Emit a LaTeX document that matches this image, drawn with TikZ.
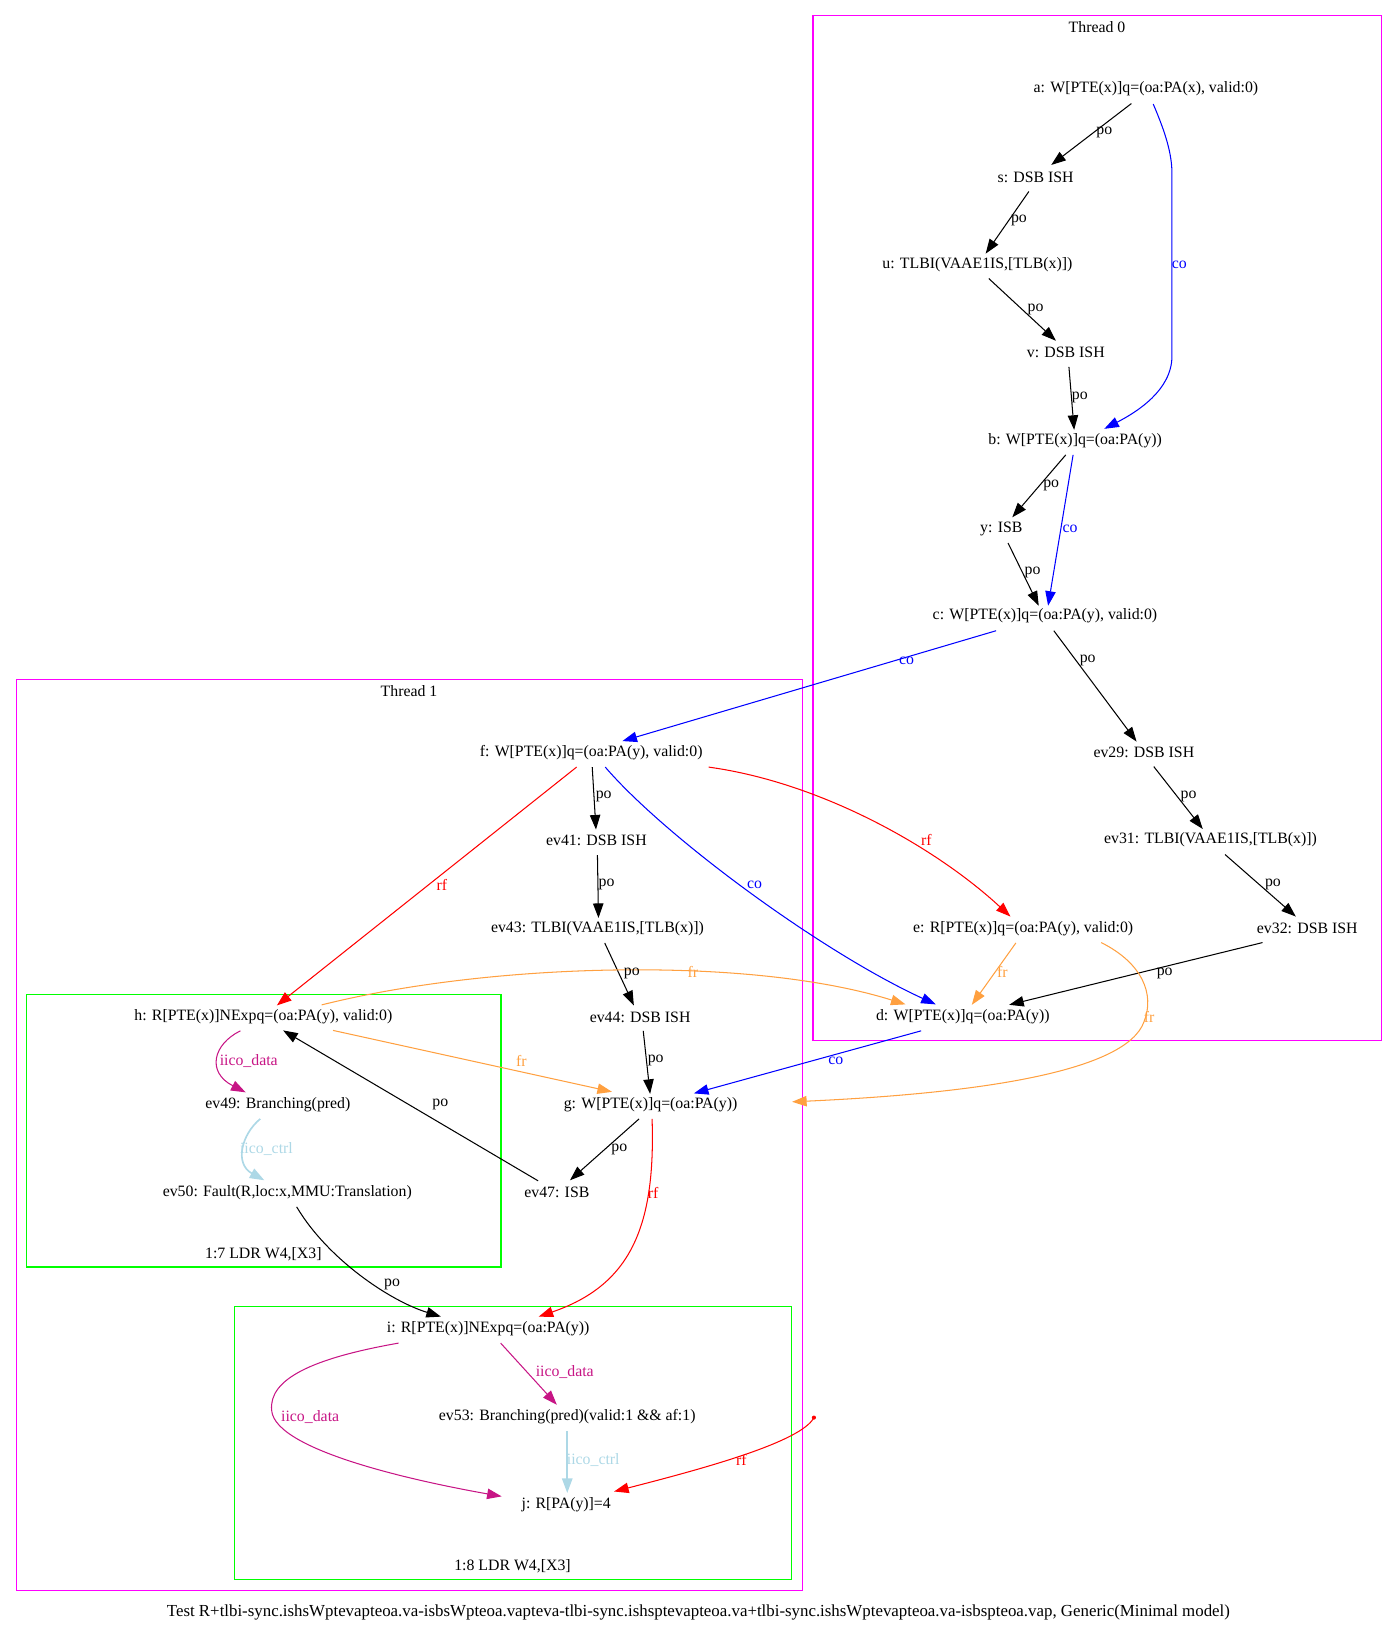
\documentclass[tikz,border=0pt]{standalone}
\usepackage{fontspec}
\setmainfont{Liberation Serif}
\usetikzlibrary{arrows.meta}
\definecolor{clmag}{RGB}{255,0,255}
\definecolor{clgreen}{RGB}{0,255,0}
\definecolor{frorange}{RGB}{255,160,64}
\definecolor{iicodata}{RGB}{199,21,133}
\definecolor{iicoctrl}{RGB}{173,216,230}

\begin{document}
\begin{tikzpicture}[x=1pt,y=-1pt,
  ev/.style={font=\fontsize{15.2}{18}\selectfont, inner sep=0pt},
  lbl/.style={font=\fontsize{15.2}{18}\selectfont, inner sep=0pt},
  edge/.style={line width=1pt, -{Triangle[length=14pt,width=10pt]}},
  po/.style={edge, black},
  co/.style={edge, blue},
  rf/.style={edge, red},
  fr/.style={edge, frorange},
  idata/.style={edge, iicodata},
  ictrl/.style={edge, iicoctrl, line width=1.6pt},
  thread/.style={draw=clmag, line width=1.2pt},
  instr/.style={draw=clgreen, line width=1.2pt},
]
\useasboundingbox (0,0) rectangle (1342,1568);

% clusters
\draw[thread] (781,15) rectangle (1327,1000);
\node[lbl] (t0) at (1054,26) {Thread 0};
\draw[thread] (16,653) rectangle (771,1528);
\node[lbl] (t1) at (393,664) {Thread 1};
\draw[instr] (25.6,955.7) rectangle (481.4,1217.4);
\node[lbl] (in7) at (253,1204.6) {1:7 LDR W4,[X3]};
\draw[instr] (225.6,1255) rectangle (760.6,1517.8);
\node[lbl] (in8) at (492.4,1505) {1:8 LDR W4,[X3]};

% events of thread 0
\node[ev] (a) at (1101,85) {a: W[PTE(x)]q=(oa:PA(x), valid:0)};
\node[ev] (s) at (995,170) {s: DSB ISH};
\node[ev] (u) at (939,254) {u: TLBI(VAAE1IS,[TLB(x)])};
\node[ev] (v) at (1024,339) {v: DSB ISH};
\node[ev] (b) at (1033,423) {b: W[PTE(x)]q=(oa:PA(y))};
\node[ev] (y) at (962,508) {y: ISB};
\node[ev] (c) at (1004,592) {c: W[PTE(x)]q=(oa:PA(y), valid:0)};
\node[ev] (ev29) at (1099,723) {ev29: DSB ISH};
\node[ev] (ev31) at (1163,807) {ev31: TLBI(VAAE1IS,[TLB(x)])};
\node[ev] (ev32) at (1256,892) {ev32: DSB ISH};
\node[ev] (e) at (983,892) {e: R[PTE(x)]q=(oa:PA(y), valid:0)};
\node[ev] (d) at (925,977) {d: W[PTE(x)]q=(oa:PA(y))};

% events of thread 1
\node[ev] (f) at (568,723) {f: W[PTE(x)]q=(oa:PA(y), valid:0)};
\node[ev] (ev41) at (573,807) {ev41: DSB ISH};
\node[ev] (ev43) at (574,892) {ev43: TLBI(VAAE1IS,[TLB(x)])};
\node[ev] (ev44) at (615,977) {ev44: DSB ISH};
\node[ev] (g) at (625,1061) {g: W[PTE(x)]q=(oa:PA(y))};
\node[ev] (ev47) at (535,1146) {ev47: ISB};
\node[ev] (h) at (253,977) {h: R[PTE(x)]NExpq=(oa:PA(y), valid:0)};
\node[ev] (ev49) at (267,1061) {ev49: Branching(pred)};
\node[ev] (ev50) at (276,1146) {ev50: Fault(R,loc:x,MMU:Translation)};
\node[ev] (i) at (469,1277) {i: R[PTE(x)]NExpq=(oa:PA(y))};
\node[ev] (ev53) at (545,1361) {ev53: Branching(pred)(valid:1 \&\& af:1)};
\node[ev] (j) at (544,1446) {j: R[PA(y)]=4};
\coordinate (init) at (782,1362);
\fill[red] (init) circle[radius=2];

% thread 0 edges
\draw[po] ([shift={(-14,14.5)}]a.center) -- ([shift={(15,-11.5)}]s.center);
\draw[co] ([shift={(7,15)}]a.center) .. controls (1120,128) and (1126,148) .. (1126,167)
  -- (1126,342) .. controls (1126,375) and (1092,396) .. ([shift={(28,-11)}]b.center);
\draw[po] ([shift={(-6.5,14)}]s.center) -- ([shift={(8,-10.3)}]u.center);
\draw[po] ([shift={(11,13.6)}]u.center) -- ([shift={(-9.5,-11.6)}]v.center);
\draw[po] ([shift={(3,13.5)}]v.center) -- ([shift={(-1,-10)}]b.center);
\draw[po] ([shift={(-9,14)}]b.center) -- ([shift={(10.6,-11)}]y.center);
\draw[co] ([shift={(-2,14)}]b.center) -- ([shift={(3,-10)}]c.center);
\draw[po] ([shift={(6.5,13.7)}]y.center) -- ([shift={(-6,-10)}]c.center);
\draw[co] ([shift={(-47,14)}]c.center) -- ([shift={(30,-11)}]f.center);
\draw[po] ([shift={(8.5,14)}]c.center) -- ([shift={(-7,-10.5)}]ev29.center);
\draw[po] ([shift={(9.5,13.5)}]ev29.center) -- ([shift={(-7.4,-10.5)}]ev31.center);
\draw[po] ([shift={(14,14)}]ev31.center) -- ([shift={(-11,-11.4)}]ev32.center);
\draw[po] ([shift={(-43,13.6)}]ev32.center) -- ([shift={(44.6,-11.6)}]d.center);
\draw[fr] ([shift={(-7,14)}]e.center) -- ([shift={(8.7,-11.6)}]d.center);
\draw[fr] ([shift={(75,13.6)}]e.center) .. controls (1097,925) and (1110,955) .. (1099,982)
  .. controls (1082,1028) and (950,1050) .. ([shift={(136,-2.4)}]g.center);
\draw[co] ([shift={(-40,13.4)}]d.center) -- ([shift={(41.7,-10.5)}]g.center);

% thread 1 edges
\draw[po] ([shift={(1,14)}]f.center) -- ([shift={(-0.4,-10)}]ev41.center);
\draw[rf] ([shift={(-14,14)}]f.center) -- ([shift={(13,-11)}]h.center);
\draw[co] ([shift={(13.5,14)}]f.center) .. controls (640,805) and (790,915) .. ([shift={(-26,-12)}]d.center);
\draw[rf] ([shift={(112.8,14)}]f.center) .. controls (790,752) and (900,815) .. ([shift={(-12.2,-11.4)}]e.center);
\draw[po] ([shift={(1,14.6)}]ev41.center) -- ([shift={(1,-10)}]ev43.center);
\draw[po] ([shift={(7,14)}]ev43.center) -- ([shift={(-6,-11)}]ev44.center);
\draw[po] ([shift={(3,13.4)}]ev44.center) -- ([shift={(-0.4,-10)}]g.center);
\draw[fr] ([shift={(56,-11.5)}]h.center) .. controls (470,925) and (720,918) .. ([shift={(-55,-12)}]d.center);
\draw[fr] ([shift={(67,13)}]h.center) -- ([shift={(-37,-12)}]g.center);
\draw[idata] ([shift={(-22,13.4)}]h.center) .. controls (205,1003) and (198,1030) .. ([shift={(-31,-11.5)}]ev49.center);
\draw[ictrl] ([shift={(-17,14)}]ev49.center) .. controls (232,1090) and (225,1118) .. ([shift={(-22,-12)}]ev50.center);
\draw[po] ([shift={(-18,-11.5)}]ev47.center) -- ([shift={(19,13)}]h.center);
\draw[po] ([shift={(-11,14)}]g.center) -- ([shift={(12.6,-12)}]ev47.center);
\draw[rf] ([shift={(1.5,14)}]g.center) .. controls (630,1180) and (605,1235) .. ([shift={(48.5,-12)}]i.center);
\draw[po] ([shift={(9,13.5)}]ev50.center) .. controls (315,1210) and (375,1250) .. ([shift={(-45.4,-12)}]i.center);
\draw[idata] ([shift={(12,13.4)}]i.center) -- ([shift={(-10,-11.3)}]ev53.center);
\draw[idata] ([shift={(-86,13.4)}]i.center) .. controls (300,1305) and (258,1325) .. (261,1355)
  .. controls (264,1395) and (410,1425) .. ([shift={(-62,-8.3)}]j.center);
\draw[ictrl] ([shift={(0,14)}]ev53.center) -- ([shift={(1,-11.6)}]j.center);
\draw[rf] (init) .. controls (770,1385) and (680,1410) .. ([shift={(46,-13)}]j.center);

% edge labels
\node[lbl] (l1) at (1061,127.5) {po};
\node[lbl] (l2) at (979,212) {po};
\node[lbl, text=blue] (l3) at (1133,254) {co};
\node[lbl] (l4) at (995,297) {po};
\node[lbl] (l5) at (1037.5,381.5) {po};
\node[lbl] (l6) at (1010,466) {po};
\node[lbl, text=blue] (l7) at (1028,508) {co};
\node[lbl] (l8) at (992,550) {po};
\node[lbl, text=blue] (l9) at (871,635) {co};
\node[lbl] (l10) at (1045,635) {po};
\node[lbl] (l11) at (1142,765) {po};
\node[lbl, text=red] (l12) at (890,807) {rf};
\node[lbl] (l13) at (1223,850) {po};
\node[lbl, text=frorange] (l14) at (963,934) {fr};
\node[lbl] (l15) at (1119,935) {po};
\node[lbl, text=frorange] (l16) at (1104,977) {fr};
\node[lbl] (l17) at (580,765) {po};
\node[lbl, text=red] (l18) at (424.6,850) {rf};
\node[lbl] (l19) at (582.8,850) {po};
\node[lbl, text=blue] (l20) at (725,850) {co};
\node[lbl] (l21) at (607,935) {po};
\node[lbl, text=frorange] (l22) at (665.7,934) {fr};
\node[lbl, text=frorange] (l23) at (501,1019) {fr};
\node[lbl] (l24) at (630,1019) {po};
\node[lbl, text=blue] (l25) at (803,1019) {co};
\node[lbl, text=iicodata] (l26) at (239,1019) {iico\_data};
\node[lbl, text=iicoctrl] (l27) at (256,1103.5) {iico\_ctrl};
\node[lbl] (l28) at (423,1061) {po};
\node[lbl] (l29) at (595,1104) {po};
\node[lbl, text=red] (l30) at (627.5,1146) {rf};
\node[lbl] (l31) at (376.7,1234.4) {po};
\node[lbl, text=iicodata] (l32) at (542.6,1318.6) {iico\_data};
\node[lbl, text=iicodata] (l33) at (298,1361) {iico\_data};
\node[lbl, text=iicoctrl] (l34) at (570,1403) {iico\_ctrl};
\node[lbl, text=red] (l35) at (712.4,1402.5) {rf};

% caption
\node[lbl, font=\fontsize{16.2}{19}\selectfont] (cap) at (671,1549) {Test R+tlbi-sync.ishsWptevapteoa.va-isbsWpteoa.vapteva-tlbi-sync.ishsptevapteoa.va+tlbi-sync.ishsWptevapteoa.va-isbspteoa.vap, Generic(Minimal model)};
\end{tikzpicture}
\end{document}
